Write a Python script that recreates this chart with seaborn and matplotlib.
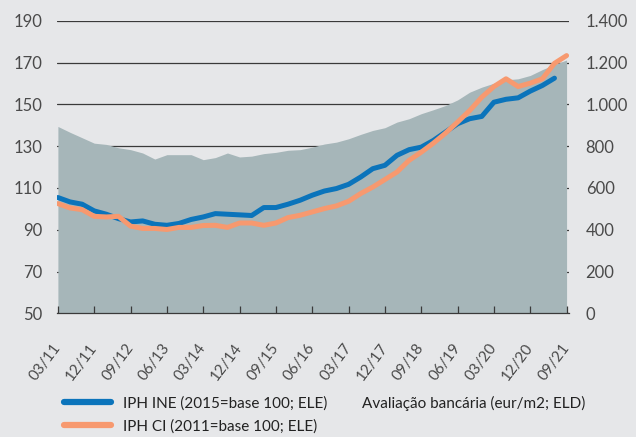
import matplotlib
matplotlib.use("Agg")
import matplotlib.pyplot as plt
import matplotlib.ticker as mticker
import seaborn as sns
import numpy as np
import pandas as pd

# ---- data (quarterly, 03/11 .. 09/21) ----
quarters = [f"{m:02d}/{y:02d}" for y in range(11, 22) for m in (3, 6, 9, 12)][:43]
tick_labels = ["03/11", "12/11", "09/12", "06/13", "03/14", "12/14", "09/15", "06/16",
               "03/17", "12/17", "09/18", "06/19", "03/20", "12/20", "09/21"]

avaliacao = [894, 866, 840, 814, 808, 792, 783, 767, 738, 759, 759, 759, 735, 745, 767,
             748, 752, 764, 770, 780, 783, 795, 810, 819, 835, 856, 875, 888, 915, 931,
             955, 974, 994, 1021, 1058, 1082, 1101, 1117, 1122, 1138, 1166, 1190, 1212]

iph_ine = [105.4, 103.3, 102.2, 99.0, 97.4, 95.3, 93.7, 94.2, 92.6, 92.1, 93.0, 94.9,
           96.1, 97.7, 97.4, 97.1, 96.8, 100.6, 100.6, 102.2, 104.1, 106.5, 108.5, 109.7,
           111.7, 115.2, 119.2, 120.8, 125.6, 128.3, 129.5, 132.7, 136.7, 140.7, 143.1,
           144.2, 151.0, 152.4, 153.1, 156.3, 159.0, 162.5, None]

iph_ci = [102.5, 100.4, 99.6, 96.4, 96.1, 96.4, 91.7, 90.6, 90.6, 90.1, 91.1, 91.1,
          92.0, 92.1, 91.1, 93.2, 93.2, 92.1, 93.2, 95.8, 96.9, 98.5, 100.1, 101.4,
          103.6, 107.3, 110.4, 114.0, 117.6, 123.2, 127.1, 131.4, 136.2, 141.5, 147.0,
          153.4, 158.5, 162.2, 158.5, 160.1, 162.2, 169.6, 173.3]

label_ine = "IPH INE (2015=base 100; ELE)"
label_ci = "IPH CI (2011=base 100; ELE)"
label_av = "Avaliação bancária (eur/m2; ELD)"

BG = "#E6E7E9"
AREA = "#A6B6B9"
BLUE = "#0B74BB"
ORANGE = "#F7996F"
TXT = "#4A4A4A"
GRID = "#3A3A3A"

df = pd.DataFrame({
    "q": np.arange(len(quarters)),
    "av": avaliacao,
    "ine": [np.nan if v is None else v for v in iph_ine],
    "ci": iph_ci,
})

sns.set_style("white")
plt.rcParams["font.family"] = ["Lato", "DejaVu Sans"]

fig = plt.figure(figsize=(6.36, 4.37), dpi=100, facecolor=BG)
ax = fig.add_axes([57.3 / 636, 1 - 313.3 / 437, (569 - 57.3) / 636, (313.3 - 20.7) / 437])
ax.set_facecolor(BG)

# area on right scale
ax.fill_between(df["q"], 0, df["av"], color=AREA, lw=0, zorder=2)
ax.set_ylim(0, 1400)
ax.grid(axis="y", color=GRID, lw=0.9, zorder=1)
ax.set_axisbelow(True)
ax.set_xlim(-0.05, 42.2)

# lines on left scale
ax2 = ax.twinx()
sns.lineplot(data=df, x="q", y="ine", ax=ax2, color=BLUE, lw=3.6, solid_capstyle="round",
             legend=False)
sns.lineplot(data=df, x="q", y="ci", ax=ax2, color=ORANGE, lw=3.6, solid_capstyle="round",
             legend=False)
ax2.set_ylim(50, 190)
ax2.set_yticks(range(50, 191, 20))
ax2.set_xlim(-0.05, 42.2)
ax2.set_xlabel("")
ax2.set_ylabel("")

ax.set_yticks(range(0, 1401, 200))
ax.yaxis.set_major_formatter(mticker.FuncFormatter(lambda v, p: f"{int(v):,}".replace(",", ".")))
ax.yaxis.tick_right()
ax2.yaxis.tick_left()

for a in (ax, ax2):
    for s in a.spines.values():
        s.set_visible(False)

ax2.spines["bottom"].set_visible(True)
ax2.spines["bottom"].set_color(GRID)
ax2.spines["bottom"].set_linewidth(0.9)

ax.tick_params(axis="y", which="both", left=False, labelleft=False, right=False,
               labelright=True, length=0, pad=12, labelsize=12, labelcolor=TXT)
ax2.tick_params(axis="y", which="both", right=False, labelright=False, left=False,
                labelleft=True, length=0, pad=11, labelsize=12, labelcolor=TXT)

ax2.xaxis.set_visible(True)
tick_pos = [quarters.index(t) for t in tick_labels]
ax2.set_xticks(tick_pos)
ax2.set_xticklabels(tick_labels, rotation=53, ha="right", va="center",
                    rotation_mode="anchor")
ax2.tick_params(axis="x", direction="in", length=5, width=0.9, color=GRID, pad=23,
                labelsize=11, labelcolor=TXT, bottom=True, labelbottom=True)
ax.tick_params(axis="x", bottom=False, labelbottom=False)

# legend
h1 = plt.Line2D([], [], color=BLUE, lw=4.5, solid_capstyle="round")
h2 = plt.Line2D([], [], color=ORANGE, lw=4.5, solid_capstyle="round")
leg = fig.legend([h1, h2], [label_ine, label_ci], loc="center left",
                 bbox_to_anchor=(50 / 636, 1 - 415 / 437), frameon=False,
                 handlelength=3.1, handletextpad=0.8, labelspacing=0.55,
                 prop={"size": 11}, labelcolor="#222222")
fig.text(362 / 636, 1 - 403 / 437, label_av, fontsize=11, color="#222222",
         va="center", ha="left")

fig.savefig("out.png", dpi=100, facecolor=BG)
